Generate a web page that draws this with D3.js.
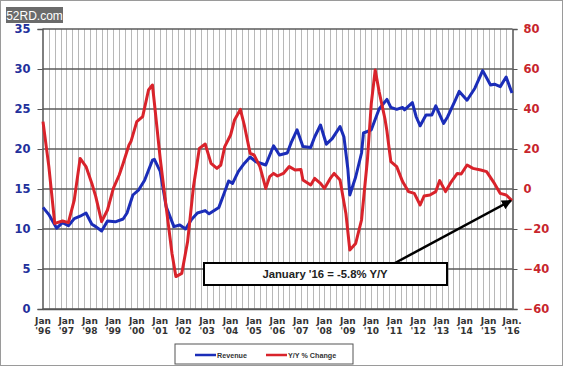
<!DOCTYPE html>
<html><head><meta charset="utf-8">
<script src="https://cdn.jsdelivr.net/npm/d3@7"></script>
<style>body{margin:0;background:#fff;overflow:hidden}text{font-family:Arial,"Liberation Sans",sans-serif}</style>
</head><body><svg id="c" width="563" height="366"></svg>
<script>
// month index: 0 = Jan '96 ... 240 = Jan '16
const revMonths = [0,3,7,10,13,16,19,22,25,27,30,33,37,41,43,46,49,52,56,57,60,63,67,70,73,76,79,83,85,90,92,95,97,100,103,106,109,114,118,121,125,127,130,133,137,139,142,145,148,152,154,156,157,160,163,164,168,172,176,178,181,184,185,189,191,193,196,199,201,205,207,211,213,217,221,225,229,231,234,237,240];
const revValues = [12.7,11.8,10.1,10.8,10.4,11.3,11.6,12.0,10.6,10.3,9.75,11.0,10.9,11.25,12.0,14.25,14.9,16.1,18.6,18.7,17.2,12.8,10.3,10.5,10.0,11.2,12.0,12.3,11.9,12.7,14.0,16.0,15.7,17.2,18.2,19.0,18.4,18.0,20.4,19.25,19.5,20.8,22.4,20.3,20.2,21.5,23.0,20.6,21.3,22.8,21.5,17.5,14.25,16.5,19.5,22.0,22.4,25.0,26.2,25.2,24.96,25.2,24.9,25.8,24.0,22.9,24.25,24.25,25.4,23.2,24.0,26.1,27.2,26.1,27.6,29.8,28.0,28.1,27.8,29.0,27.0];
const yoyMonths = [0,3,6,10,13,16,19,22,25,27,30,33,36,39,41,44,45,48,51,54,56,57,60,63,66,68,71,74,77,80,83,86,89,91,93,96,98,101,103,106,108,111,114,116,118,120,123,126,129,132,133,137,139,142,144,147,149,152,155,157,160,163,166,168,170,172,175,176,177,178,181,184,187,190,193,195,198,201,203,206,209,212,214,217,220,224,227,231,234,237,240];
const yoyValues = [33.7,11.2,-17.2,-16,-16.8,-5.5,15.3,11.2,2.8,-3.8,-16.3,-10.5,0.3,7,12.8,22,23.7,33.7,36.2,49.5,52,43,15,-8.8,-32.2,-43.8,-42.2,-26.3,1.2,20.3,22.5,12.8,10.3,12,21.2,27,34.5,39.8,32,17.8,17,11.2,0.3,6.2,7.8,6.5,7.8,11.2,9.5,9.8,4.5,2,5.3,2.8,0.3,5.3,7.8,4.5,-12.2,-30.5,-27.2,-15.5,14.5,42.8,59.5,48.7,35,29,21.2,13.7,11.2,3.7,-1.3,-2.2,-8,-3.5,-3,-1.3,4.2,-1.3,3.7,7.8,7.5,12,10.3,9.5,8.7,2.8,-2.2,-3,-5.8];
const xTickMonths = [0,12,24,36,48,60,72,84,96,108,120,132,144,156,168,180,192,204,216,228,240];
const xTickYears = ["'96","'97","'98","'99","'00","'01","'02","'03","'04","'05","'06","'07","'08","'09","'10","'11","'12","'13","'14","'15","'16"];
const leftTicks = [0,5,10,15,20,25,30,35];
const rightTicks = [-60,-40,-20,0,20,40,60,80];
const seriesNames = ["Revenue","Y/Y % Change"];
const annotationText = "January '16 = -5.8% Y/Y";

const svg = d3.select("#c");
const L = 42.5, R = 512.5, T = 29, B = 309;
const x = d3.scaleLinear().domain([0,240]).range([L+0.5,R-0.5]);
const yL = d3.scaleLinear().domain([0,35]).range([B,T]);
const yR = d3.scaleLinear().domain([-60,80]).range([B,T]);
const blue = "#1b2db8", red = "#d9232b";
const tickFont = "'DejaVu Sans',Verdana,sans-serif";

svg.append("rect").attr("x",0.5).attr("y",0.5).attr("width",562).attr("height",365).attr("fill","#fff").attr("stroke","#9a9a9a");

// vertical quarterly grid
const g = svg.append("g");
g.selectAll("line.v").data(d3.range(3,240,3)).join("line")
  .attr("x1",d=>Math.round(x(d))+0.5).attr("x2",d=>Math.round(x(d))+0.5)
  .attr("y1",T).attr("y2",B).attr("stroke","#b8b8b8").attr("stroke-width",1);
// horizontal grid
g.selectAll("line.h").data(leftTicks).join("line")
  .attr("x1",L).attr("x2",R).attr("y1",d=>yL(d)).attr("y2",d=>yL(d))
  .attr("stroke","#5a5a5a").attr("stroke-width",1.3);

// axes
const axL = svg.append("g").attr("transform",`translate(${L},0)`)
  .call(d3.axisLeft(yL).tickValues(leftTicks).tickSize(5).tickPadding(7));
axL.select(".domain").attr("stroke","#555").attr("stroke-width",1.5);
axL.selectAll(".tick line").attr("stroke","#555");
axL.selectAll("text").attr("fill","#23309c").attr("font-size",11.5).attr("font-weight","bold").style("font-family",tickFont);

const axR = svg.append("g").attr("transform",`translate(${R},0)`)
  .call(d3.axisRight(yR).tickValues(rightTicks).tickSize(5).tickPadding(6));
axR.select(".domain").attr("stroke","#555").attr("stroke-width",1.5);
axR.selectAll(".tick line").attr("stroke","#555");
axR.selectAll("text").attr("fill","#c8252c").attr("font-size",11.5).attr("font-weight","bold").style("font-family",tickFont);

const axB = svg.append("g").attr("transform",`translate(0,${B})`)
  .call(d3.axisBottom(x).tickValues(xTickMonths).tickSize(0).tickFormat(""));
axB.select(".domain").attr("stroke","#555").attr("stroke-width",1.5);
const xl = svg.append("g").selectAll("text").data(xTickMonths).join("text")
  .attr("x",d=>x(d)).attr("y",323.5).attr("text-anchor","middle")
  .attr("font-size",9).attr("font-weight","bold").attr("fill","#333").style("font-family",tickFont);
xl.append("tspan").attr("x",d=>x(d)).attr("dy",0).text((d,i)=>i===20?"Jan.":"Jan");
xl.append("tspan").attr("x",d=>x(d)).attr("dy",10).text((d,i)=>xTickYears[i]);

// lines
const revData = revMonths.map((m,i)=>[m,revValues[i]]);
const yoyData = yoyMonths.map((m,i)=>[m,yoyValues[i]]);
svg.append("path").datum(revData).attr("fill","none").attr("stroke",blue).attr("stroke-width",3)
  .attr("stroke-linejoin","round").attr("d",d3.line().x(d=>x(d[0])).y(d=>yL(d[1])));
svg.append("path").datum(yoyData).attr("fill","none").attr("stroke",red).attr("stroke-width",3)
  .attr("stroke-linejoin","round").attr("d",d3.line().x(d=>x(d[0])).y(d=>yR(d[1])));

// annotation
svg.append("defs").append("marker").attr("id","ah").attr("viewBox","0 0 10 10").attr("refX",9).attr("refY",5)
  .attr("markerWidth",4).attr("markerHeight",4).attr("orient","auto")
  .append("path").attr("d","M0,0L10,5L0,10z").attr("fill","#000");
const last = yoyData[yoyData.length-1];
svg.append("line").attr("x1",395).attr("y1",263).attr("x2",x(last[0])-1).attr("y2",yR(last[1]))
  .attr("stroke","#000").attr("stroke-width",2.5).attr("marker-end","url(#ah)");
svg.append("rect").attr("x",204).attr("y",263).attr("width",243).attr("height",22)
  .attr("fill","#fff").attr("stroke","#000").attr("stroke-width",2);
svg.append("text").attr("x",325).attr("y",278).attr("text-anchor","middle")
  .attr("font-size",11.3).attr("font-weight","bold").attr("fill","#222").text(annotationText);

// legend
svg.append("rect").attr("x",175).attr("y",344).attr("width",178).attr("height",20)
  .attr("fill","#fff").attr("stroke","#555").attr("stroke-width",1);
const lg = svg.append("g");
[[195,blue],[266,red]].forEach((p,i)=>{
  lg.append("line").attr("x1",p[0]).attr("x2",p[0]+21).attr("y1",355).attr("y2",355).attr("stroke",p[1]).attr("stroke-width",2.5);
  lg.append("text").attr("x",p[0]+22).attr("y",357.5).attr("font-size",7.2).attr("font-weight","bold").attr("fill","#333").text(seriesNames[i]);
});

// watermark badge
svg.append("rect").attr("x",6).attr("y",7).attr("width",57).attr("height",16).attr("fill","#6b6b6b");
svg.append("text").attr("x",34.5).attr("y",19.5).attr("text-anchor","middle").attr("font-size",12).attr("fill","#fff").text("52RD.com");
</script></body></html>
